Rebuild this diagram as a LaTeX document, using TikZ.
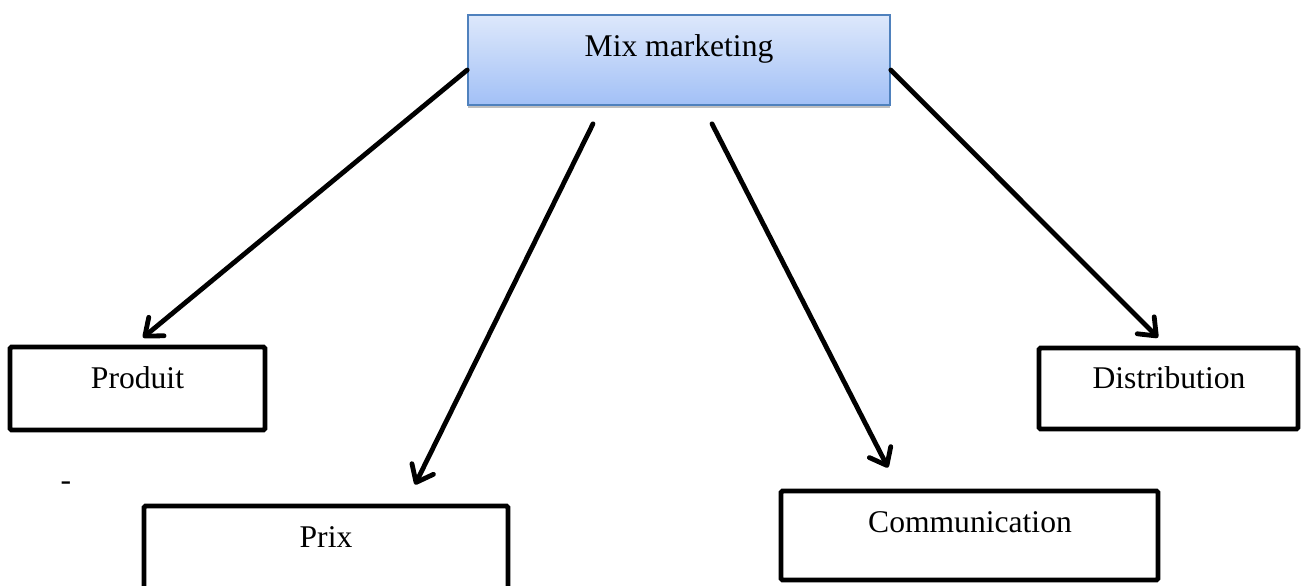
\documentclass[tikz,border=0pt]{standalone}
\usepackage{fontspec}
\setmainfont{Liberation Serif}
\usetikzlibrary{arrows.meta,shadows}
\definecolor{mixtop}{HTML}{DDE8FB}
\definecolor{mixbot}{HTML}{A2C0F6}
\definecolor{mixborder}{HTML}{4F81BD}
\tikzset{
  box/.style={draw=black, line width=2.4pt, rounded corners=0.8pt, inner sep=0pt, fill=white},
  mixbox/.style={draw=mixborder, line width=0.8pt, inner sep=0pt, top color=mixtop, bottom color=mixbot,
    drop shadow={shadow xshift=0pt, shadow yshift=-1.5pt, opacity=0.25, fill=black}},
  lbl/.style={anchor=base, inner sep=0pt, font=\fontsize{15.8}{19}\selectfont},
  arr/.style={line width=2.4pt, -{Straight Barb[length=7.5pt,width=12pt,line cap=round,line join=round]}, line cap=round}
}
\begin{document}
\begin{tikzpicture}[x=0.5pt,y=-0.5pt]
\useasboundingbox (0,0) rectangle (1302,585);
\clip (0,0) rectangle (1302,585);
% boxes
\node[mixbox, minimum width=211pt, minimum height=45pt] (mix) at (679,60) {};
\node[box, minimum width=127.5pt, minimum height=41.5pt] (prod) at (137.5,388.5) {};
\node[box, minimum width=182pt, minimum height=57pt] (prix) at (326,563) {};
\node[box, minimum width=188.5pt, minimum height=44.5pt] (comm) at (969.5,535.5) {};
\node[box, minimum width=129.5pt, minimum height=40.5pt] (dist) at (1168.5,388.5) {};
% labels
\node[lbl] (mixt) at (679,56) {Mix marketing};
\node[lbl] (prodt) at (137.5,388) {Produit};
\node[lbl] (prixt) at (326,547) {Prix};
\node[lbl] (commt) at (970,532) {Communication};
\node[lbl] (distt) at (1169,388) {Distribution};
\node[lbl] (dash) at (66,490) {-};
% arrows
\draw[arr] ([yshift=-5pt]mix.west) -- ([xshift=2.75pt,yshift=3.5pt]prod.north);
\draw[arr] ([xshift=-43pt,yshift=-9pt]mix.south) -- ([xshift=44.5pt,yshift=9.5pt]prix.north);
\draw[arr] ([xshift=16.5pt,yshift=-9pt]mix.south) -- ([xshift=-40.75pt,yshift=10.5pt]comm.north);
\draw[arr] ([yshift=-5pt]mix.east) -- ([xshift=-5.25pt,yshift=4pt]dist.north);
\end{tikzpicture}
\end{document}
